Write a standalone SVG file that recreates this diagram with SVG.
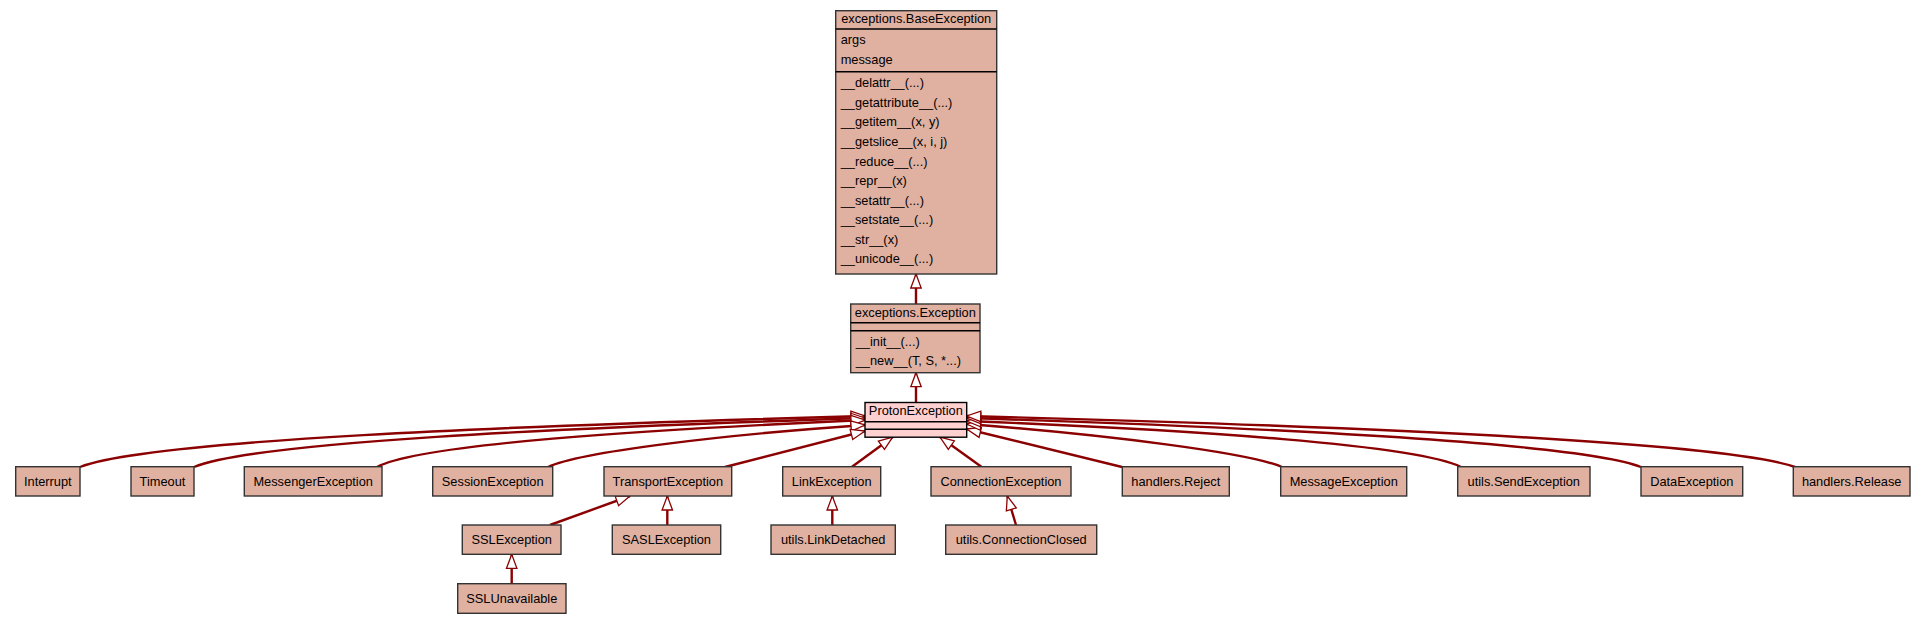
<svg xmlns="http://www.w3.org/2000/svg" width="1925" height="624" viewBox="0 0 1925 624">
<defs>
<style>
.n rect{fill:#E0B1A0;stroke:#333;stroke-width:1.4}
.n line{stroke:#000;stroke-width:1.4}
.p rect{fill:#FFD0D0;stroke:#000;stroke-width:1.4}
.p line{stroke:#000;stroke-width:1.4}
text{font-family:"Liberation Sans",Arial,sans-serif;font-size:12.8px;fill:#000}
.c{text-anchor:middle}
.e path{fill:none;stroke:#8B0000;stroke-width:2.4;marker-end:url(#tri)}
</style>
<marker id="tri" markerUnits="userSpaceOnUse" markerWidth="18" markerHeight="14" refX="15" refY="6" orient="auto" viewBox="0 0 18 12">
<path d="M1,0.8 L15,6 L1,11.2 Z" fill="#fff" stroke="#8B0000" stroke-width="1.3"/>
</marker>
</defs>
<rect width="1925" height="624" fill="#fff"/>

<g class="e" id="connectors">
<path d="M916,304 L916,274"/>
<path d="M916,402.5 L916,372.7"/>
<path d="M80,467 C150,440 504,426 865,416"/>
<path d="M194,467 C255,442 556,428 865,418"/>
<path d="M377,467 C420,444 640,430 865,420"/>
<path d="M548,467 C580,452 720,435 865,425"/>
<path d="M725,467 L865,431"/>
<path d="M851.7,467 L892.7,437"/>
<path d="M981.7,467 L940,437"/>
<path d="M1122,467 L966.7,429"/>
<path d="M1282,467 C1250,453 1110,435 966.7,424"/>
<path d="M1461,467 C1418,445 1194,430 966.7,421"/>
<path d="M1641,467 C1580,443 1277,428 966.7,418"/>
<path d="M1795,467 C1720,441 1348,426 966.7,416"/>
<path d="M550,525 L630,496"/>
<path d="M667.3,525 L667.3,496"/>
<path d="M511.7,583.7 L511.7,554.3"/>
<path d="M832.3,525 L832.3,496"/>
<path d="M1016,525 L1007.3,496"/>
</g>

<g class="n" id="BaseException">
<rect x="835.7" y="10.7" width="161" height="263.3"/>
<line x1="835.7" y1="29" x2="996.7" y2="29"/>
<line x1="835.7" y1="71.7" x2="996.7" y2="71.7"/>
<text class="c" x="916.2" y="23">exceptions.BaseException</text>
<text x="840.7" y="43.5">args</text>
<text x="840.7" y="63.5">message</text>
<text x="840.7" y="87.3">__delattr__(...)</text>
<text x="840.7" y="106.9">__getattribute__(...)</text>
<text x="840.7" y="126.4">__getitem__(x, y)</text>
<text x="840.7" y="146">__getslice__(x, i, j)</text>
<text x="840.7" y="165.5">__reduce__(...)</text>
<text x="840.7" y="185.1">__repr__(x)</text>
<text x="840.7" y="204.7">__setattr__(...)</text>
<text x="840.7" y="224.2">__setstate__(...)</text>
<text x="840.7" y="243.8">__str__(x)</text>
<text x="840.7" y="263.3">__unicode__(...)</text>
</g>

<g class="n" id="Exception">
<rect x="850.7" y="304" width="129.3" height="68.7"/>
<line x1="850.7" y1="322.7" x2="980" y2="322.7"/>
<line x1="850.7" y1="330.7" x2="980" y2="330.7"/>
<text class="c" x="915.3" y="317">exceptions.Exception</text>
<text x="855.7" y="345.5">__init__(...)</text>
<text x="855.7" y="365">__new__(T, S, *...)</text>
</g>

<g class="p" id="ProtonException">
<rect x="865" y="402.5" width="101.7" height="34.7"/>
<line x1="865" y1="421.7" x2="966.7" y2="421.7"/>
<line x1="865" y1="429.3" x2="966.7" y2="429.3"/>
<text class="c" x="915.8" y="415">ProtonException</text>
</g>

<g class="n" id="Interrupt"><rect x="15.7" y="466.7" width="64.3" height="29.3"/><text class="c" x="47.8" y="485.5">Interrupt</text></g>
<g class="n" id="Timeout"><rect x="131" y="466.7" width="63" height="29.3"/><text class="c" x="162.5" y="485.5">Timeout</text></g>
<g class="n" id="MessengerException"><rect x="244.3" y="466.7" width="137.7" height="29.3"/><text class="c" x="313.2" y="485.5">MessengerException</text></g>
<g class="n" id="SessionException"><rect x="432.7" y="466.7" width="120" height="29.3"/><text class="c" x="492.7" y="485.5">SessionException</text></g>
<g class="n" id="TransportException"><rect x="604" y="466.7" width="127.7" height="29.3"/><text class="c" x="667.8" y="485.5">TransportException</text></g>
<g class="n" id="LinkException"><rect x="782.7" y="466.7" width="98" height="29.3"/><text class="c" x="831.7" y="485.5">LinkException</text></g>
<g class="n" id="ConnectionException"><rect x="931" y="466.7" width="140" height="29.3"/><text class="c" x="1001" y="485.5">ConnectionException</text></g>
<g class="n" id="handlersReject"><rect x="1122.3" y="466.7" width="107" height="29.3"/><text class="c" x="1175.8" y="485.5">handlers.Reject</text></g>
<g class="n" id="MessageException"><rect x="1280.7" y="466.7" width="126" height="29.3"/><text class="c" x="1343.7" y="485.5">MessageException</text></g>
<g class="n" id="utilsSendException"><rect x="1457.7" y="466.7" width="132.3" height="29.3"/><text class="c" x="1523.8" y="485.5">utils.SendException</text></g>
<g class="n" id="DataException"><rect x="1641" y="466.7" width="101.7" height="29.3"/><text class="c" x="1691.8" y="485.5">DataException</text></g>
<g class="n" id="handlersRelease"><rect x="1793.3" y="466.7" width="116.7" height="29.3"/><text class="c" x="1851.7" y="485.5">handlers.Release</text></g>

<g class="n" id="SSLException"><rect x="462.3" y="525" width="98.7" height="29.3"/><text class="c" x="511.7" y="543.5">SSLException</text></g>
<g class="n" id="SASLException"><rect x="612.3" y="525" width="108.4" height="29.3"/><text class="c" x="666.5" y="543.5">SASLException</text></g>
<g class="n" id="utilsLinkDetached"><rect x="771" y="525" width="124.3" height="29.3"/><text class="c" x="833.2" y="543.5">utils.LinkDetached</text></g>
<g class="n" id="utilsConnectionClosed"><rect x="945.7" y="525" width="151" height="29.3"/><text class="c" x="1021.2" y="543.5">utils.ConnectionClosed</text></g>
<g class="n" id="SSLUnavailable"><rect x="457.7" y="583.7" width="108.3" height="29.6"/><text class="c" x="511.8" y="602.5">SSLUnavailable</text></g>
</svg>
